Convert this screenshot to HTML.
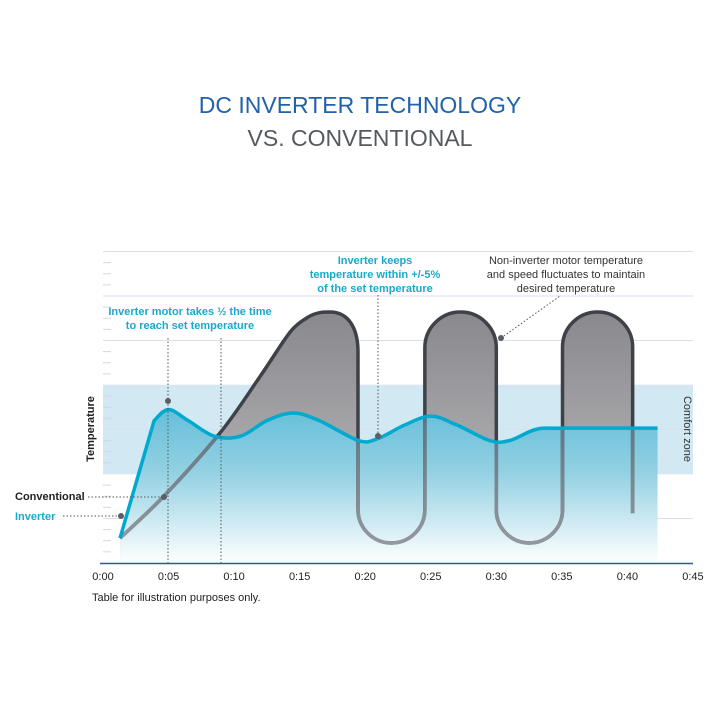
<!DOCTYPE html>
<html><head><meta charset="utf-8"><style>
html,body{margin:0;padding:0;background:#fff;}
svg{display:block;font-family:"Liberation Sans",Arial,sans-serif;}
</style></head><body>
<svg id="chart" width="720" height="720" viewBox="0 0 720 720">
<defs>
<linearGradient id="invGrad" gradientUnits="userSpaceOnUse" x1="0" y1="400" x2="0" y2="563">
<stop offset="0" stop-color="#5ebcd7"/><stop offset="0.45" stop-color="#94d1e3"/><stop offset="1" stop-color="#ffffff"/>
</linearGradient>
<linearGradient id="grayGrad" gradientUnits="userSpaceOnUse" x1="0" y1="310" x2="0" y2="450">
<stop offset="0" stop-color="#88888d"/><stop offset="1" stop-color="#a9a8ab"/>
</linearGradient>
<linearGradient id="lightLine" gradientUnits="userSpaceOnUse" x1="0" y1="420" x2="0" y2="560">
<stop offset="0" stop-color="#5f7482"/><stop offset="1" stop-color="#9a9da2"/>
</linearGradient>
<clipPath id="invClip"><path id="invClipPath" d=""/></clipPath>
</defs>
<text x="360" y="113" text-anchor="middle" font-size="23" fill="#2162aa">DC INVERTER TECHNOLOGY</text>
<text x="360" y="146" text-anchor="middle" font-size="23" fill="#555a60">VS. CONVENTIONAL</text>
<rect x="103" y="385" width="590" height="89" fill="#d2e8f2"/>
<g id="grid"></g>
<text transform="translate(684,429) rotate(90)" text-anchor="middle" font-size="11" fill="#333">Comfort zone</text>
<g id="marks"></g>
<text transform="translate(94,429) rotate(-90)" text-anchor="middle" font-size="11" font-weight="bold" fill="#222">Temperature</text>
<g id="xticks"></g>
<text x="92" y="601" font-size="11" fill="#222">Table for illustration purposes only.</text>
<g id="annot" font-size="11">
<line x1="168" y1="338" x2="168" y2="563" stroke="#555" stroke-dasharray="1.5,2"/>
<line x1="221" y1="338" x2="221" y2="563" stroke="#555" stroke-dasharray="1.5,2"/>
<line x1="378" y1="295" x2="378" y2="436" stroke="#555" stroke-dasharray="1.5,2"/>
<line x1="501" y1="338" x2="560" y2="296" stroke="#555" stroke-dasharray="1.5,2"/>
<line x1="88" y1="497" x2="164" y2="497" stroke="#555" stroke-dasharray="1.5,2"/>
<line x1="63" y1="516" x2="121" y2="516" stroke="#555" stroke-dasharray="1.5,2"/>
<circle cx="168" cy="401" r="3" fill="#5a5d63"/>
<circle cx="164" cy="497" r="3" fill="#5a5d63"/>
<circle cx="121" cy="516" r="3" fill="#5a5d63"/>
<circle cx="378" cy="436" r="3" fill="#5a5d63"/>
<circle cx="501" cy="338" r="3" fill="#5a5d63"/>
<text x="15" y="500" font-weight="bold" fill="#222">Conventional</text>
<text x="15" y="520" font-weight="bold" fill="#1aa9cc">Inverter</text>
<g fill="#1aa9cc" font-weight="bold" text-anchor="middle">
<text x="190" y="315">Inverter motor takes ½ the time</text><text x="190" y="329">to reach set temperature</text></g>
<g fill="#1aa9cc" font-weight="bold" text-anchor="middle">
<text x="375" y="264">Inverter keeps</text><text x="375" y="278">temperature within +/-5%</text><text x="375" y="292">of the set temperature</text></g>
<g fill="#333" text-anchor="middle">
<text x="566" y="264">Non-inverter motor temperature</text><text x="566" y="278">and speed fluctuates to maintain</text><text x="566" y="292">desired temperature</text></g>
</g>
</svg>
<script>
// data (minutes, temperature units)
var xTickLabels = ["0:00","0:05","0:10","0:15","0:20","0:25","0:30","0:35","0:40","0:45"];
var xTickValues = [0,5,10,15,20,25,30,35,40,45];
var invMinutes = [1.3,3.9,5,6.5,8.5,10.5,12.5,14.5,16.5,19.5,21,23,25,27,29.5,31,33,35,42.3];
var invTemps   = [0.56,3.2,3.45,3.2,2.85,2.85,3.2,3.37,3.2,2.75,2.8,3.1,3.3,3.1,2.75,2.75,3.0,3.03,3.03];
var convRiseMinutes = [1.3,4.7,9,12,14.3];
var convRiseTemps   = [0.56,1.52,2.95,4.2,5.2];
var peakTop = 5.64;
var valleyBottom = 0.45;
var switchMinutes = [19.45,24.55,30.0,35.05,40.4];
var convEndTemp = 1.12;

var NS="http://www.w3.org/2000/svg";
function xs(m){return 103+m*13.11;}
function ys(u){return 563-u*44.5;}
function el(tag,attrs,parent){var e=document.createElementNS(NS,tag);for(var k in attrs)e.setAttribute(k,attrs[k]);parent.appendChild(e);return e;}

var grid=document.getElementById('grid');
for(var i=1;i<=7;i++){
  var g=el('line',{x1:103,x2:693,y1:ys(i),y2:ys(i),stroke:'#d9e0ec','stroke-width':1,opacity:(i>=2&&i<=4)?0.5:1},grid);
  
  
}
for(var j=1;j<28;j++){
  var yy=563-j*11.125; if(j%4===0) continue;
  var t=el('line',{x1:103,x2:111,y1:yy,y2:yy,stroke:'#d0d6e2','stroke-width':1},grid);
  
  
}

function catmull(px,firstStraight){
  var d='M'+px[0][0]+','+px[0][1];
  var start=0;
  if(firstStraight){d+=' L'+px[1][0]+','+px[1][1];start=1;}
  for(var i=start;i<px.length-1;i++){
    var p0=px[i-1]||px[i],p1=px[i],p2=px[i+1],p3=px[i+2]||p2;
    if(firstStraight&&i===1)p0=p1;
    var c1=[p1[0]+(p2[0]-p0[0])/6,p1[1]+(p2[1]-p0[1])/6];
    var c2=[p2[0]-(p3[0]-p1[0])/6,p2[1]-(p3[1]-p1[1])/6];
    d+=' C'+c1[0]+','+c1[1]+' '+c2[0]+','+c2[1]+' '+p2[0]+','+p2[1];
  }
  return d;
}
var invPx=invMinutes.map(function(m,i){return [xs(m),ys(invTemps[i])];});
var invD=catmull(invPx,true);
var invAreaD=invD+' L'+xs(invMinutes[invMinutes.length-1])+',563 L'+xs(invMinutes[0])+',563 Z';
document.getElementById('invClipPath').setAttribute('d',invAreaD);

// conventional path
var rp=convRiseMinutes.map(function(m,i){return [xs(m),ys(convRiseTemps[i])];});
var nextPt=[xs(15.6),ys(peakTop-0.12)];
var cd=catmull(rp.concat([nextPt]),false);
var s0=xs(switchMinutes[0]);
var pk=17.3;
cd+=' C'+xs(16.3)+','+ys(peakTop)+' '+xs(pk-0.5)+','+ys(peakTop)+' '+xs(pk)+','+ys(peakTop);
cd+=' C'+xs(pk+1.4)+','+ys(peakTop)+' '+s0+','+ys(peakTop-0.35)+' '+s0+','+ys(peakTop-0.9);
var yb=ys(valleyBottom), yt=ys(peakTop);
for(var k=0;k<switchMinutes.length-1;k++){
  var xa=xs(switchMinutes[k]), xb=xs(switchMinutes[k+1]), r=(xb-xa)/2;
  if(k%2===0){ cd+=' L'+xa+','+(yb-r)+' A'+r+','+r+' 0 0 0 '+xb+','+(yb-r); }
  else { cd+=' L'+xa+','+(yt+r)+' A'+r+','+r+' 0 0 1 '+xb+','+(yt+r); }
}
var xe=xs(switchMinutes[switchMinutes.length-1]);
cd+=' L'+xe+','+ys(convEndTemp);
var convFillD=cd+' L'+xe+',563 L'+rp[0][0]+',563 Z';

var marks=document.getElementById('marks');
var cf=el('path',{d:convFillD,fill:'url(#grayGrad)'},marks);


var ia=el('path',{d:invAreaD,fill:'url(#invGrad)'},marks);


var cl=el('path',{d:cd,fill:'none',stroke:'#3f4148','stroke-width':3.5,'stroke-linejoin':'round'},marks);


var cl2=el('path',{d:cd,fill:'none',stroke:'url(#lightLine)','stroke-width':3.6,'clip-path':'url(#invClip)'},marks);


var il=el('path',{d:invD,fill:'none',stroke:'#00a9ce','stroke-width':3.5,'stroke-linejoin':'round'},marks);



var ax=document.getElementById('xticks');
var axl=el('line',{x1:100,x2:693,y1:563.5,y2:563.5,stroke:'#2a5aa0','stroke-width':1.5},ax);


xTickValues.forEach(function(v,i){
  var t=el('text',{x:xs(v),y:580,'text-anchor':'middle','font-size':11,fill:'#222'},ax);
  t.textContent=xTickLabels[i];
  
  
});
</script>
</body></html>
